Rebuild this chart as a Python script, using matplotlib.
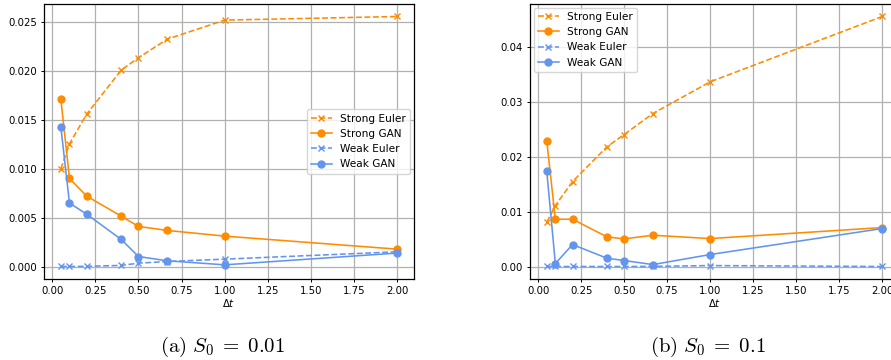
import matplotlib
matplotlib.use("Agg")
import matplotlib.pyplot as plt

# Passos de tempo usados nas simulações
dt = [0.05, 0.1, 0.2, 0.4, 0.5, 0.667, 1.0, 2.0]

# Erros para S0 = 0.01
strong_euler_a = [0.0100, 0.01255, 0.01558, 0.02007, 0.02133, 0.02323, 0.02517, 0.02554]
strong_gan_a = [0.01711, 0.00901, 0.00721, 0.00517, 0.00412, 0.00371, 0.00313, 0.00180]
weak_euler_a = [0.00003, 0.00003, 0.00005, 0.00014, 0.00037, 0.00054, 0.00078, 0.00153]
weak_gan_a = [0.01429, 0.00650, 0.00537, 0.00279, 0.00105, 0.00061, 0.00020, 0.00140]

# Erros para S0 = 0.1
strong_euler_b = [0.00809, 0.01112, 0.01550, 0.02182, 0.02407, 0.02790, 0.03368, 0.04559]
strong_gan_b = [0.02292, 0.00863, 0.00863, 0.00541, 0.00505, 0.00571, 0.00510, 0.00711]
weak_euler_b = [0.00001, 0.00001, 0.00001, 0.00001, 0.00001, 0.00003, 0.00018, 0.00001]
weak_gan_b = [0.01745, 0.00055, 0.00401, 0.00152, 0.00110, 0.00036, 0.00219, 0.00693]

captions = [r"$\mathrm{(a)}\ S_0 \;=\; 0.01$", r"$\mathrm{(b)}\ S_0 \;=\; 0.1$"]

orange = "#ff8c00"
blue = "#6495ed"
fs = 7.3

plt.rcParams["mathtext.fontset"] = "dejavusans"

fig = plt.figure(figsize=(8.91, 3.6), dpi=100)
ax_a = fig.add_axes([0.0494, 0.225, 0.4153, 0.7639])
ax_b = fig.add_axes([0.5948, 0.225, 0.4141, 0.7639])


def plot_errors(ax, se, sg, we, wg, legend_loc):
    ax.plot(dt, se, "x--", color=orange, label="Strong Euler", lw=1.15, ms=5)
    ax.plot(dt, sg, "o-", color=orange, label="Strong GAN", lw=1.15, ms=5)
    ax.plot(dt, we, "x--", color=blue, label="Weak Euler", lw=1.15, ms=5)
    ax.plot(dt, wg, "o-", color=blue, label="Weak GAN", lw=1.15, ms=5)
    ax.grid(True, color="#b0b0b0", lw=0.9)
    ax.set_axisbelow(True)
    ax.set_xticks([0.0, 0.25, 0.5, 0.75, 1.0, 1.25, 1.5, 1.75, 2.0])
    ax.tick_params(labelsize=fs, length=2.5, width=0.7, pad=2.5)
    for s in ax.spines.values():
        s.set_linewidth(0.9)
    ax.set_xlabel(r"$\Delta t$", fontsize=fs, labelpad=0.5)
    ax.legend(loc=legend_loc, fontsize=7.6, handlelength=2.0, borderaxespad=0.35)


plot_errors(ax_a, strong_euler_a, strong_gan_a, weak_euler_a, weak_gan_a, "center right")
plot_errors(ax_b, strong_euler_b, strong_gan_b, weak_euler_b, weak_gan_b, "upper left")
ax_a.set_yticks([0.0, 0.005, 0.01, 0.015, 0.02, 0.025])
ax_a.yaxis.set_major_formatter(matplotlib.ticker.FormatStrFormatter("%.3f"))
ax_b.set_yticks([0.0, 0.01, 0.02, 0.03, 0.04])
ax_b.yaxis.set_major_formatter(matplotlib.ticker.FormatStrFormatter("%.2f"))

# Legendas das subfiguras em estilo LaTeX
plt.rcParams["mathtext.fontset"] = "cm"
fig.text(0.250, 0.037, captions[0], ha="center", va="center", fontsize=15)
fig.text(0.794, 0.037, captions[1], ha="center", va="center", fontsize=15)

fig.savefig("out.png", dpi=100)
